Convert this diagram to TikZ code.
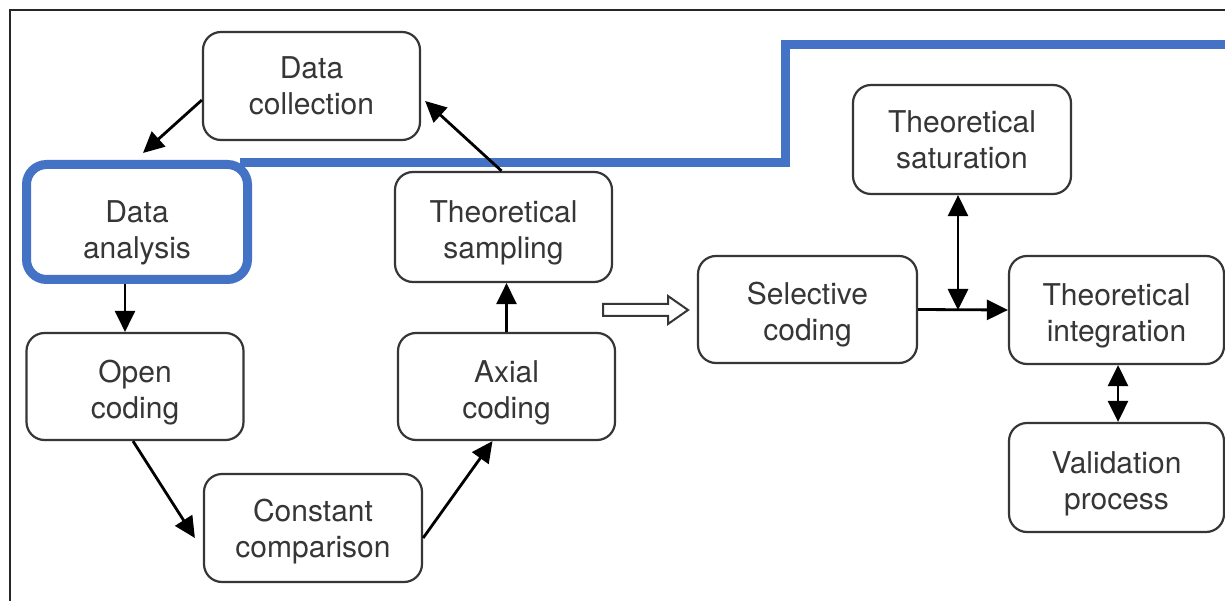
\documentclass[tikz,border=0pt]{standalone}
\usepackage{fontspec}
\setmainfont{TeX Gyre Heros}
\usetikzlibrary{arrows.meta}
\definecolor{txt}{HTML}{363636}
\definecolor{blu}{HTML}{4472C4}
\newcommand{\lowstrut}{\rule{0pt}{27pt}}
\begin{document}
\begin{tikzpicture}[x=1pt,y=-1pt,
  bigtri/.tip={Triangle[length=21pt,width=20pt]},
  box/.style={draw=txt, line width=2.2pt, rounded corners=18pt,
    minimum width=217pt, minimum height=108pt, align=center, text=txt,
    font=\fontsize{30}{36}\selectfont, inner sep=0pt, text depth=0pt},
  bluebox/.style={box, draw=blu, line width=9pt, rounded corners=20pt},
  arr/.style={draw=black, line width=2.8pt, -bigtri},
  darr/.style={draw=black, line width=2.8pt, bigtri-bigtri},
  frame/.style={draw=black!85, line width=1.3pt}]
\useasboundingbox (0,0) rectangle (1225,601);
\fill[white] (0,0) rectangle (1225,601);
% frame
\draw[frame] (10,601) -- (10,10) -- (1225,10);
% blue line
\draw[blu, line width=9pt] (240,163) -- (785,163) -- (785,45) -- (1225,45);
% boxes
\node[box] (dc) at (311.5,86) {Data\\collection};
\node[bluebox, minimum width=221pt, minimum height=115pt] (da) at (137,222) {\rule{0pt}{38pt}Data\\analysis};
\node[box, minimum height=110pt] (ts) at (503.5,227) {\lowstrut Theoretical\\sampling};
\node[box, minimum height=107pt] (oc) at (135,386.5) {\lowstrut Open\\coding};
\node[box, minimum height=107pt] (ax) at (506.5,386.5) {\lowstrut Axial\\coding};
\node[box, minimum width=218pt] (cc) at (313,528) {Constant\\comparison};
\node[box, minimum width=219pt, minimum height=107pt] (sc) at (807.5,309.5) {\lowstrut Selective\\coding};
\node[box, minimum width=218pt, minimum height=109pt] (sat) at (962,139.5) {Theoretical\\saturation};
\node[box, minimum width=215pt] (ti) at (1116.5,310) {\lowstrut Theoretical\\integration};
\node[box, minimum width=215pt, minimum height=109pt] (vp) at (1116.5,477.5) {\lowstrut Validation\\process};
% arrows of the cycle
\draw[arr] ([yshift=-14pt]dc.west) -- ([xshift=6pt,yshift=7pt]da.north);
\draw[arr] ([xshift=-12pt]da.south) -- ([xshift=-12pt]oc.north -| da.south);
\draw[arr] ([xshift=-2pt]oc.south) -- ([xshift=-8pt,yshift=-10pt]cc.west);
\draw[arr] ([yshift=-10pt]cc.east) -- ([xshift=-14pt]ax.south);
\draw[arr] (ax.north) -- (ax.north |- ts.south);
\draw[arr] ([xshift=-2pt]ts.north) -- ([xshift=4pt,yshift=-15pt]dc.east);
% hollow arrow
\coordinate (ha) at (603,310);
\draw[txt, line width=2pt, fill=white, line join=miter]
  (ha) ++(0,-6) -- ++(65,0) -- ++(0,-8) -- ++(20,14) -- ++(-20,14) -- ++(0,-8) -- ++(-65,0) -- cycle;
% right part
\coordinate (j) at (958,310);
\draw[arr] (sc.east) -- (ti.west);
\draw[darr] (j) -- (j |- sat.south);
\draw[darr] ([xshift=1.5pt]ti.south) -- ([xshift=1.5pt]vp.north);
\end{tikzpicture}
\end{document}
